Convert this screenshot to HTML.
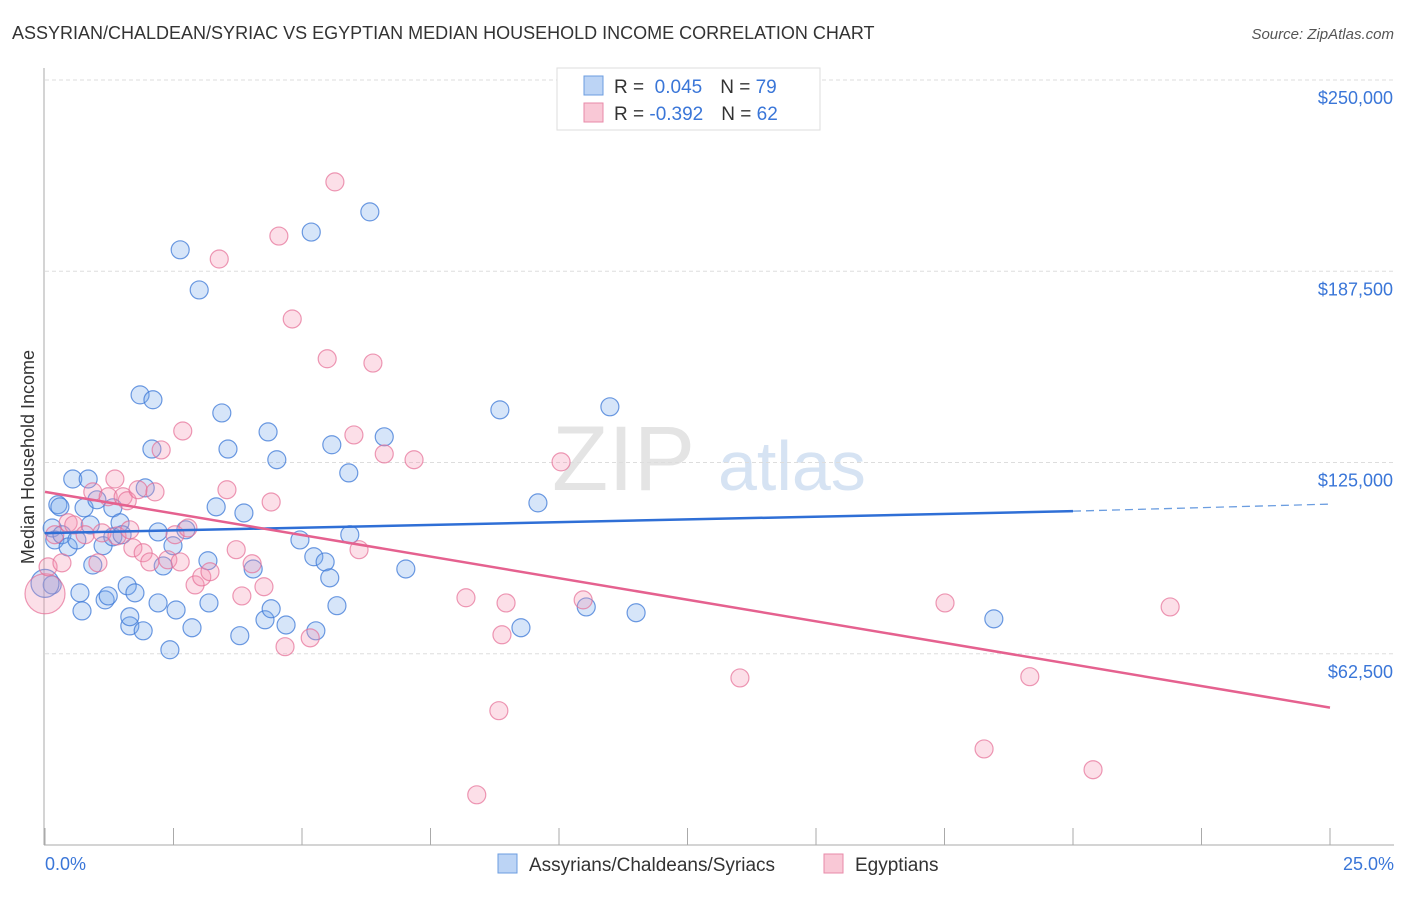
<!DOCTYPE html>
<html><head><meta charset="utf-8"><style>
body{margin:0;background:#fff;font-family:"Liberation Sans",sans-serif}
svg text{font-family:"Liberation Sans",sans-serif}
</style></head><body>
<svg width="1406" height="892" viewBox="0 0 1406 892" xmlns="http://www.w3.org/2000/svg">
<text x="12" y="39" font-size="18" fill="#333">ASSYRIAN/CHALDEAN/SYRIAC VS EGYPTIAN MEDIAN HOUSEHOLD INCOME CORRELATION CHART</text>
<text x="1394" y="39" font-size="15" fill="#555" text-anchor="end" font-style="italic">Source: ZipAtlas.com</text>
<g><text x="552" y="490" font-size="92" fill="#e4e4e4" font-family="Liberation Serif">ZIP</text><text x="718" y="490" font-size="70" fill="#d6e3f3">atlas</text></g>
<g id="grid"></g><g id="axes"></g><g id="pts"></g><g id="lines"></g>
<text transform="translate(34,457) rotate(-90)" font-size="18" fill="#333" text-anchor="middle">Median Household Income</text>
<text x="45" y="870" font-size="18" fill="#3a76d8">0.0%</text>
<text x="1394" y="870" font-size="18" fill="#3a76d8" text-anchor="end">25.0%</text>
<g>
<rect x="557" y="68" width="263" height="62" fill="#fff" stroke="#ddd"/>
<rect x="584" y="76" width="19" height="19" fill="#bcd4f5" stroke="#6b9de0"/>
<rect x="584" y="103" width="19" height="19" fill="#f9c8d6" stroke="#e88aa8"/>
<text x="614" y="93" font-size="19" fill="#333">R = <tspan fill="#3a76d8">&#160;0.045</tspan><tspan dx="18">N = </tspan><tspan fill="#3a76d8">79</tspan></text>
<text x="614" y="120" font-size="19" fill="#333">R = <tspan fill="#3a76d8">-0.392</tspan><tspan dx="18">N = </tspan><tspan fill="#3a76d8">62</tspan></text>
</g>
<g>
<rect x="498" y="854" width="19" height="19" fill="#bcd4f5" stroke="#6b9de0"/>
<text x="529" y="871" font-size="19" fill="#333">Assyrians/Chaldeans/Syriacs</text>
<rect x="824" y="854" width="19" height="19" fill="#f9c8d6" stroke="#e88aa8"/>
<text x="855" y="871" font-size="19" fill="#333">Egyptians</text>
</g>
</svg>
<script>
const yTicks=[62500,125000,187500,250000];
const yTickLabels=["$62,500","$125,000","$187,500","$250,000"];
const xTicks=[0,2.5,5,7.5,10,12.5,15,17.5,20,22.5,25];
const blueX=[0.14,0.14,0.19,0.25,0.29,0.33,0.45,0.54,0.62,0.68,0.72,0.76,0.84,0.88,0.93,1.01,1.13,1.17,1.23,1.32,1.32,1.46,1.50,1.60,1.65,1.65,1.75,1.85,1.91,1.95,2.08,2.10,2.20,2.20,2.30,2.43,2.49,2.55,2.63,2.74,2.86,3.00,3.17,3.19,3.33,3.44,3.56,3.79,3.87,4.05,4.28,4.34,4.40,4.51,4.69,4.96,5.18,5.23,5.27,5.45,5.54,5.58,5.68,5.91,5.93,6.32,6.60,7.02,8.85,9.26,9.59,10.53,10.99,11.50,18.46,0.0];
const blueY=[103.6,85.0,99.7,111.2,110.5,101.4,97.4,119.6,99.7,82.4,76.5,110.2,119.6,104.6,91.5,112.8,97.8,80.1,81.4,110.2,100.7,105.3,101.4,84.7,71.6,74.6,82.4,147.1,70.0,116.7,129.4,145.5,102.3,79.1,91.2,63.8,97.8,76.8,194.5,103.0,71.0,181.4,92.9,79.1,110.5,141.2,129.4,68.4,108.5,90.2,73.6,135.0,77.2,125.9,71.9,99.7,200.3,94.2,70.0,92.5,87.3,130.8,78.2,121.6,101.4,206.9,133.4,90.2,142.2,71.0,111.8,77.8,143.2,75.9,73.9,85.5];
const pinkX=[0.0,0.06,0.19,0.33,0.45,0.56,0.78,0.93,1.03,1.11,1.23,1.36,1.40,1.52,1.60,1.65,1.71,1.81,1.91,2.04,2.14,2.26,2.39,2.53,2.63,2.68,2.78,2.92,3.05,3.21,3.39,3.54,3.72,3.83,4.03,4.26,4.40,4.55,4.67,4.81,5.16,5.49,5.64,6.01,6.11,6.38,6.60,7.18,8.19,8.40,8.83,8.89,8.97,10.04,10.47,13.52,17.51,18.27,19.16,20.39,21.89];
const pinkY=[82.1,90.9,101.4,92.2,105.3,104.6,101.4,115.4,92.2,102.0,113.8,119.6,101.0,113.8,112.5,103.0,97.1,116.1,95.5,92.5,115.4,129.1,93.2,101.4,92.5,135.3,103.6,85.0,87.6,89.3,191.5,116.1,96.5,81.4,91.9,84.4,112.1,199.0,64.8,171.9,67.7,158.9,216.7,134.0,96.5,157.5,127.8,125.9,80.8,16.4,43.9,68.7,79.1,125.2,80.1,54.6,79.1,31.4,55.0,24.6,77.8];
const pinkR=[20];
const blueTrend=[[0,101.9],[20,109.1],[25,111.4]];
const pinkTrend=[[0,115.4],[25,44.9]];
const NS="http://www.w3.org/2000/svg";
const xs=v=>45+v*(1330-45)/25;
const ys=v=>845-v*(845-80)/250000;
const yk=v=>ys(v*1000);
function mk(tag,attrs,parent){const e=document.createElementNS(NS,tag);for(const k in attrs)e.setAttribute(k,attrs[k]);document.getElementById(parent).appendChild(e);return e;}
yTicks.forEach((t,i)=>{
 const l=mk('line',{x1:45,x2:1394,y1:ys(t),y2:ys(t),stroke:'#ddd','stroke-dasharray':'4,3'},'grid');
 
 
 const tx=mk('text',{x:1393,y:ys(t)+24,'font-size':18,fill:'#3a76d8','text-anchor':'end'},'grid');
 tx.textContent=yTickLabels[i];
 
 
});
const ax=mk('line',{x1:44,x2:44,y1:68,y2:845,stroke:'#aaa'},'axes');


const bx=mk('line',{x1:44,x2:1394,y1:845,y2:845,stroke:'#aaa'},'axes');


xTicks.forEach(t=>{
 const l=mk('line',{x1:xs(t),x2:xs(t),y1:828,y2:845,stroke:'#aaa'},'axes');
 
 
});
blueX.forEach((x,i)=>{
 const c=mk('circle',{cx:xs(x),cy:yk(blueY[i]),r:i===blueX.length-1?14:9,fill:'rgba(120,170,235,0.3)',stroke:'rgba(60,120,215,0.75)','stroke-width':1.2},'pts');
 
 
});
pinkX.forEach((x,i)=>{
 const c=mk('circle',{cx:xs(x),cy:yk(pinkY[i]),r:i===0?pinkR[0]:9,fill:'rgba(245,150,180,0.3)',stroke:'rgba(230,110,150,0.7)','stroke-width':1.2},'pts');
 
 
});
const b1=mk('line',{x1:xs(blueTrend[0][0]),y1:yk(blueTrend[0][1]),x2:xs(blueTrend[1][0]),y2:yk(blueTrend[1][1]),stroke:'#2f6fd6','stroke-width':2.5},'lines');


const b2=mk('line',{x1:xs(blueTrend[1][0]),y1:yk(blueTrend[1][1]),x2:xs(blueTrend[2][0]),y2:yk(blueTrend[2][1]),stroke:'#6b9de0','stroke-width':1.3,'stroke-dasharray':'8,5'},'lines');


const p1=mk('line',{x1:xs(pinkTrend[0][0]),y1:yk(pinkTrend[0][1]),x2:xs(pinkTrend[1][0]),y2:yk(pinkTrend[1][1]),stroke:'#e5618f','stroke-width':2.5},'lines');


</script>
</body></html>
